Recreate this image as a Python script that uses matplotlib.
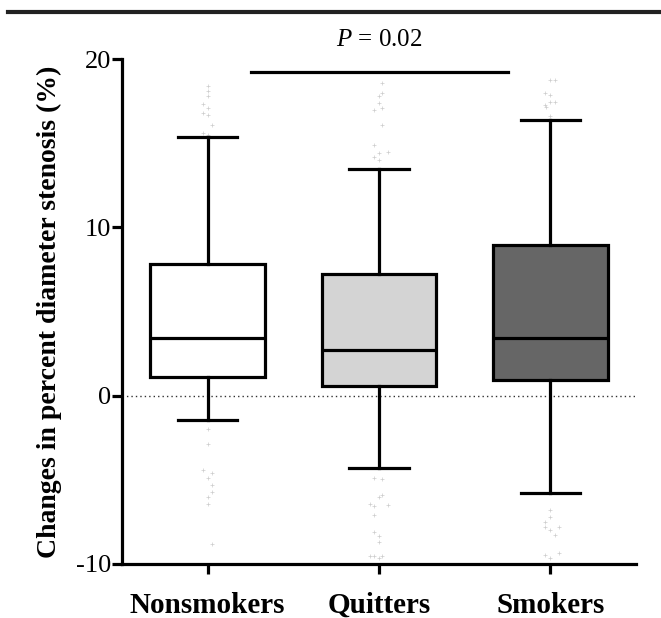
import matplotlib
matplotlib.use('Agg')
import matplotlib.pyplot as plt
from matplotlib.lines import Line2D

plt.rcParams['font.family'] = ['Liberation Serif', 'DejaVu Serif']
plt.rcParams['mathtext.fontset'] = 'custom'
plt.rcParams['mathtext.rm'] = 'Liberation Serif'
plt.rcParams['mathtext.it'] = 'Liberation Serif:italic'
plt.rcParams['axes.unicode_minus'] = False

groups = ['Nonsmokers', 'Quitters', 'Smokers']
box_colors = ['#ffffff', '#d4d4d4', '#666666']

# five-number summaries
whislo = [-1.45, -4.3, -5.8]
q1 = [1.1, 0.6, 0.95]
med = [3.4, 2.7, 3.4]
q3 = [7.8, 7.2, 8.95]
whishi = [15.35, 13.45, 16.4]

# faint outlier marks (value, small horizontal offset)
fliers = [
    [18.4, 18.1, 17.8, 17.3, 17.1, 16.8, 16.7, 16.1, 15.6, 15.5,
     -2.0, -2.85, -4.43, -4.6, -4.9, -5.3, -5.75, -6.05, -6.45, -8.8],
    [18.6, 18.0, 17.8, 17.4, 17.1, 17.0, 16.1, 14.9, 14.4, 14.2, 14.0, 14.5,
     -4.9, -4.97, -6.0, -5.9, -6.43, -6.55, -6.5, -7.09, -8.08, -8.34,
     -8.68, -9.53, -9.53, -9.65, -9.53],
    [18.76, 18.76, 17.97, 17.87, 17.47, 17.47, 17.27, 17.17, 16.6,
     -6.79, -7.23, -7.49, -7.78, -7.78, -7.98, -8.28, -9.47, -9.63, -9.37],
]
flier_dx = [
    [0.0, 0.0, 0.0, -0.03, 0.0, -0.03, 0.0, 0.025, -0.03, 0.0,
     0.0, 0.0, -0.03, 0.025, 0.0, 0.025, 0.025, 0.0, 0.0, 0.025],
    [0.02, 0.02, 0.0, 0.0, 0.02, -0.03, 0.02, -0.03, 0.0, -0.03, 0.0, 0.055,
     -0.03, 0.02, 0.0, 0.02, -0.05, -0.03, 0.055, -0.03, -0.03, 0.0,
     0.0, -0.05, -0.03, 0.0, 0.02],
    [0.0, 0.03, -0.03, 0.0, 0.0, 0.03, -0.03, -0.025, 0.0,
     0.0, 0.0, -0.03, -0.03, 0.05, 0.0, 0.025, -0.03, 0.0, 0.05],
]

p_text = '$P$ = 0.02'
sig_pair = (0.25, 1.75)
sig_y = 19.25

fig = plt.figure(figsize=(6.61, 6.18), dpi=100)
ax = fig.add_axes([0.1846, 0.0874, 0.7776, 0.8171])

stats = []
for i, g in enumerate(groups):
    stats.append({'label': g, 'whislo': whislo[i], 'q1': q1[i], 'med': med[i],
                  'q3': q3[i], 'whishi': whishi[i], 'fliers': []})

lw = 2.3
bp = ax.bxp(stats, positions=range(3), widths=0.67, capwidths=0.345,
            patch_artist=True, showfliers=False,
            boxprops=dict(linewidth=lw, edgecolor='black'),
            whiskerprops=dict(linewidth=lw, color='black'),
            capprops=dict(linewidth=lw, color='black'),
            medianprops=dict(linewidth=lw, color='black'))
for patch, c in zip(bp['boxes'], box_colors):
    patch.set_facecolor(c)

for i in range(3):
    xs = [i + d for d in flier_dx[i]]
    ax.scatter(xs, fliers[i], marker='+', s=5, linewidths=0.5,
               color='#cccccc', zorder=1)

ax.axhline(0, color='#333333', linewidth=1.0, linestyle=(0, (1, 2.2)), zorder=0)

ax.plot(sig_pair, [sig_y, sig_y], color='black', linewidth=lw, clip_on=False)
ax.text(1.0, 20.5, p_text, ha='center', va='bottom', fontsize=18)

ax.set_xlim(-0.5, 2.5)
ax.set_ylim(-10, 20)
ax.set_yticks([-10, 0, 10, 20])
ax.set_xticks(range(3))
ax.set_xticklabels(groups, fontsize=21, fontweight='bold')
ax.tick_params(axis='y', labelsize=19, width=lw, length=7, pad=1)
ax.tick_params(axis='x', width=lw, length=7, pad=13)
ax.set_ylabel('Changes in percent diameter stenosis (%)', fontsize=20,
              fontweight='bold', labelpad=10)

for s in ['top', 'right']:
    ax.spines[s].set_visible(False)
for s in ['left', 'bottom']:
    ax.spines[s].set_linewidth(lw)

fig.add_artist(Line2D([8 / 661, 1.0], [1 - 11.7 / 618] * 2, color='#222222',
                      linewidth=3, transform=fig.transFigure))

fig.savefig('out.png', dpi=100)
